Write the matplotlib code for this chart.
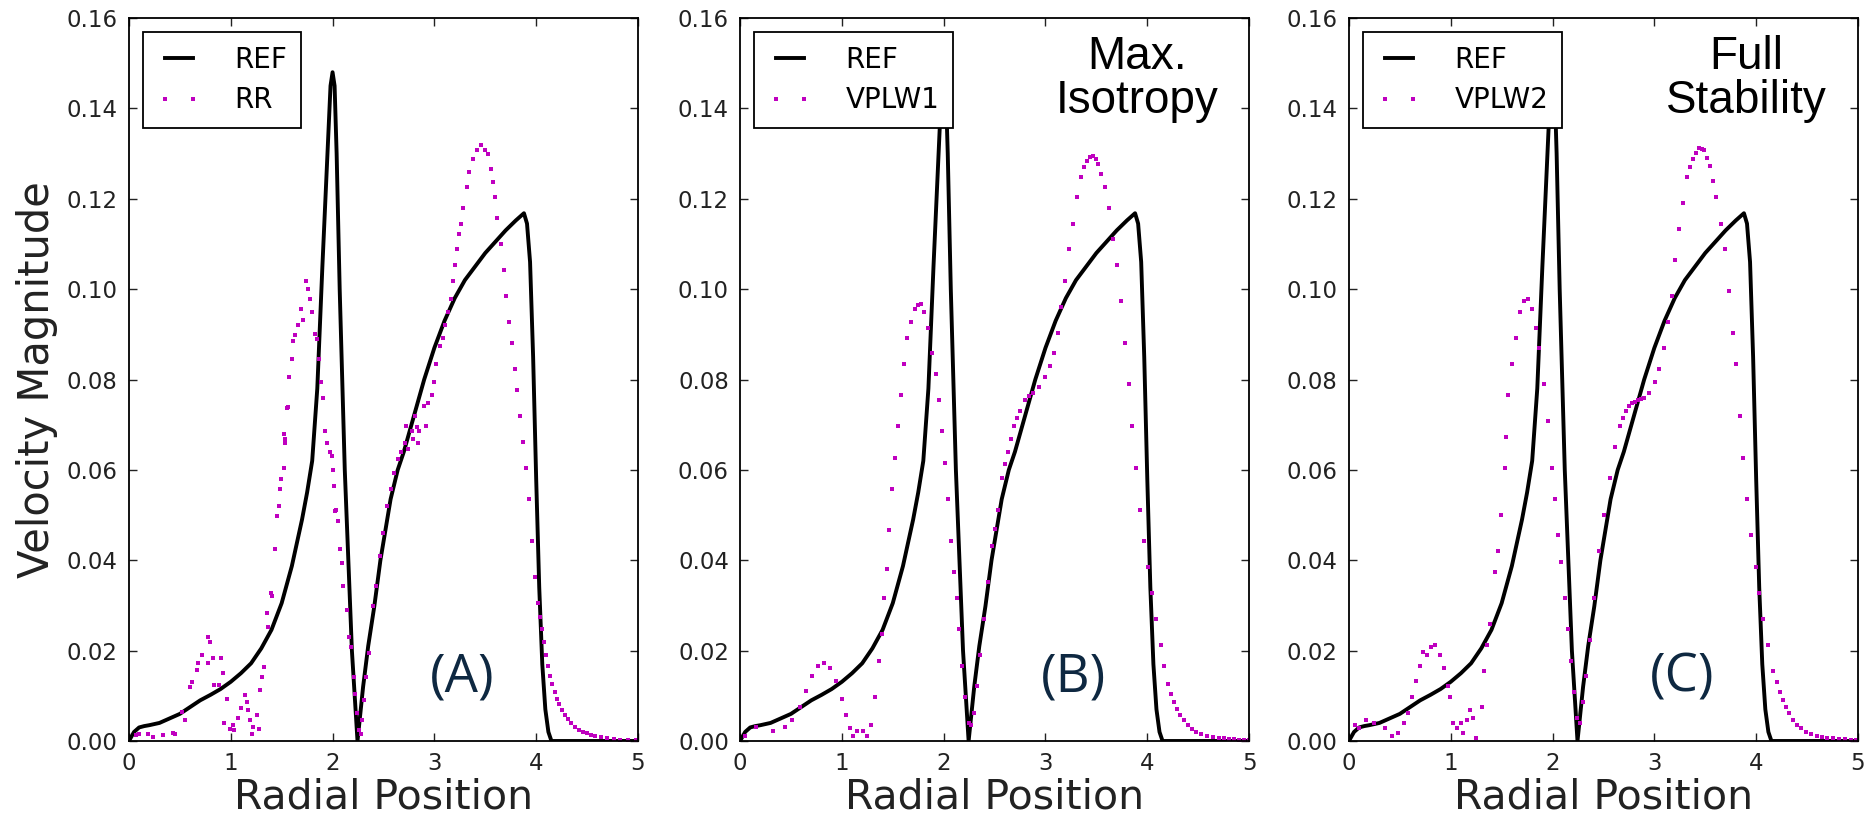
import numpy as np
import matplotlib
matplotlib.use("Agg")
import matplotlib.pyplot as plt
from matplotlib.ticker import FormatStrFormatter

# reference solution (same in every panel)
ref_x = [0, 0.05, 0.1, 0.15, 0.2, 0.3, 0.4, 0.5, 0.6, 0.7, 0.8, 0.9, 1.0, 1.1, 1.2,
         1.3, 1.4, 1.5, 1.6, 1.7, 1.75, 1.8, 1.85, 1.9, 1.95, 1.98, 2.0, 2.02, 2.04,
         2.07, 2.12, 2.19, 2.245, 2.3, 2.35, 2.41, 2.47, 2.57, 2.64, 2.7, 2.8, 2.9,
         3.0, 3.1, 3.2, 3.3, 3.4, 3.5, 3.6, 3.7, 3.8, 3.85, 3.88, 3.91, 3.94, 3.97,
         4.0, 4.03, 4.06, 4.09, 4.12, 4.15, 4.5, 5.0]
ref_y = [0, 0.002, 0.003, 0.0033, 0.0035, 0.004, 0.005, 0.006, 0.0075, 0.009, 0.0102,
         0.0115, 0.0131, 0.015, 0.0172, 0.0205, 0.0246, 0.0305, 0.0387, 0.049, 0.055,
         0.062, 0.078, 0.105, 0.13, 0.145, 0.148, 0.145, 0.13, 0.10, 0.06, 0.02, 0.0,
         0.012, 0.021, 0.0298, 0.04, 0.0535, 0.06, 0.064, 0.072, 0.08, 0.087, 0.093,
         0.098, 0.102, 0.105, 0.108, 0.1105, 0.113, 0.1152, 0.1162, 0.1168, 0.1145,
         0.106, 0.085, 0.058, 0.034, 0.017, 0.007, 0.002, 0, 0, 0]

# RR scheme
rr_x = [0.07, 0.10, 0.19, 0.24, 0.33, 0.43, 0.45, 0.52, 0.55, 0.60, 0.62, 0.67, 0.68,
        0.72, 0.78, 0.80, 0.78, 0.83, 0.84, 0.90, 0.88, 0.92, 0.93, 0.96, 0.99, 1.02,
        1.03, 1.07, 1.10, 1.14, 1.16, 1.17, 1.19, 1.21, 1.22, 1.26, 1.28, 1.29, 1.31,
        1.33, 1.36, 1.37, 1.40, 1.41, 1.43, 1.45, 1.47, 1.48, 1.49, 1.52, 1.53, 1.56,
        1.55, 1.52, 1.53, 1.57, 1.60, 1.61, 1.63, 1.66, 1.69, 1.71, 1.74, 1.76, 1.78,
        1.80, 1.83, 1.85, 1.87, 1.89, 1.91, 1.93, 1.95, 1.97, 1.99, 2.01, 2.03, 2.0,
        2.02, 2.05, 2.07, 2.09, 2.10, 2.14, 2.16, 2.18, 2.21, 2.22, 2.24, 2.26, 2.28,
        2.29, 2.31, 2.33, 2.36, 2.40, 2.43, 2.47, 2.50, 2.53, 2.57, 2.60, 2.64, 2.67,
        2.71, 2.72, 2.74, 2.78, 2.79, 2.83, 2.84, 2.81, 2.85, 2.90, 2.92, 2.94, 2.98,
        3.00, 3.02, 3.06, 3.08, 3.10, 3.13, 3.16, 3.18, 3.20, 3.22, 3.24, 3.26, 3.28,
        3.32, 3.34, 3.38, 3.42, 3.46, 3.50, 3.53, 3.56, 3.58, 3.60, 3.62, 3.65, 3.68,
        3.70, 3.73, 3.76, 3.79, 3.81, 3.84, 3.87, 3.90, 3.93, 3.96, 3.99, 4.02, 4.04,
        4.06, 4.08, 4.10, 4.12, 4.14, 4.16, 4.18, 4.20, 4.22, 4.25, 4.28, 4.31, 4.34,
        4.38, 4.42, 4.46, 4.50, 4.54, 4.58, 4.64, 4.70, 4.76, 4.82, 4.90, 4.98]
rr_y = [0.0013, 0.0016, 0.0016, 0.0009, 0.0013, 0.0018, 0.0015, 0.0064, 0.0046, 0.012,
        0.0131, 0.0157, 0.0172, 0.019, 0.0231, 0.022, 0.0172, 0.0183, 0.0124, 0.0183,
        0.0124, 0.015, 0.0039, 0.0094, 0.0027, 0.0035, 0.0024, 0.005, 0.0072, 0.0101,
        0.0087, 0.0068, 0.0046, 0.0016, 0.0031, 0.0057, 0.0027, 0.0113, 0.0142, 0.0164,
        0.0283, 0.0253, 0.0327, 0.032, 0.0424, 0.0498, 0.052, 0.0557, 0.058, 0.0605,
        0.0668, 0.0739, 0.0737, 0.068, 0.066, 0.0806, 0.0846, 0.0886, 0.0898, 0.092,
        0.0955, 0.0932, 0.1019, 0.100, 0.0978, 0.095, 0.090, 0.089, 0.0846, 0.0794,
        0.076, 0.0685, 0.066, 0.064, 0.063, 0.0564, 0.0512, 0.060, 0.051, 0.0487,
        0.0424, 0.0394, 0.0342, 0.029, 0.0231, 0.0209, 0.0142, 0.0105, 0.0061, 0.0024,
        0.0016, 0.0046, 0.009, 0.0142, 0.0194, 0.0298, 0.0342, 0.0409, 0.046, 0.052,
        0.0557, 0.0594, 0.0624, 0.0639, 0.066, 0.0698, 0.0646, 0.0687, 0.0668, 0.0694,
        0.066, 0.072, 0.0685, 0.0742, 0.0696, 0.0748, 0.0766, 0.0794, 0.0835, 0.0875,
        0.0892, 0.092, 0.095, 0.0978, 0.1019, 0.1053, 0.1088, 0.1122, 0.1145, 0.118,
        0.1226, 0.126, 0.1289, 0.1307, 0.1318, 0.1307, 0.130, 0.1266, 0.1237, 0.1203,
        0.1157, 0.110, 0.1042, 0.0984, 0.0927, 0.0881, 0.0823, 0.0777, 0.072, 0.0662,
        0.0604, 0.0535, 0.0443, 0.0363, 0.0305, 0.0275, 0.0247, 0.0218, 0.019, 0.0166,
        0.0144, 0.0126, 0.0109, 0.0094, 0.0081, 0.0068, 0.0058, 0.0048, 0.004, 0.0032,
        0.0025, 0.0021, 0.0017, 0.0013, 0.001, 0.0008, 0.0006, 0.0004, 0.0003, 0.0002,
        0.0002]

# VPLW1 scheme
v1_x = [0.05, 0.16, 0.32, 0.44, 0.51, 0.59, 0.65, 0.71, 0.77, 0.82, 0.88, 0.94, 1.00,
        1.04, 1.08, 1.11, 1.15, 1.21, 1.25, 1.29, 1.33, 1.36, 1.39, 1.41, 1.44, 1.46,
        1.49, 1.52, 1.55, 1.58, 1.61, 1.64, 1.68, 1.72, 1.75, 1.78, 1.81, 1.85, 1.89,
        1.92, 1.95, 1.98, 2.01, 2.04, 2.07, 2.10, 2.13, 2.15, 2.18, 2.21, 2.25, 2.27,
        2.30, 2.33, 2.36, 2.40, 2.44, 2.47, 2.50, 2.53, 2.57, 2.60, 2.63, 2.66, 2.69,
        2.72, 2.75, 2.80, 2.84, 2.88, 2.94, 3.00, 3.04, 3.08, 3.12, 3.15, 3.19, 3.23,
        3.27, 3.31, 3.35, 3.38, 3.41, 3.44, 3.47, 3.50, 3.52, 3.55, 3.58, 3.62, 3.66,
        3.70, 3.74, 3.78, 3.82, 3.85, 3.89, 3.93, 3.97, 4.01, 4.05, 4.09, 4.13, 4.16,
        4.20, 4.23, 4.26, 4.29, 4.32, 4.36, 4.40, 4.44, 4.48, 4.53, 4.59, 4.65, 4.70,
        4.75, 4.80, 4.85, 4.90, 4.95, 5.0]
v1_y = [0.001, 0.003, 0.0023, 0.003, 0.0046, 0.0075, 0.011, 0.0144, 0.0167, 0.0173,
        0.0161, 0.0132, 0.0092, 0.0058, 0.0029, 0.0012, 0.0023, 0.0023, 0.0012, 0.0035,
        0.0098, 0.0178, 0.0236, 0.0317, 0.038, 0.0466, 0.0558, 0.0627, 0.0696, 0.0766,
        0.0835, 0.0892, 0.0927, 0.0955, 0.0965, 0.0967, 0.095, 0.0915, 0.0858, 0.0812,
        0.0754, 0.0685, 0.0616, 0.0535, 0.0443, 0.0374, 0.0317, 0.0247, 0.0167, 0.0098,
        0.004, 0.0035, 0.0063, 0.0121, 0.019, 0.027, 0.0351, 0.0432, 0.047, 0.0512,
        0.0581, 0.0612, 0.0639, 0.0668, 0.0696, 0.0715, 0.0731, 0.0754, 0.0763, 0.0771,
        0.0783, 0.0806, 0.0829, 0.0858, 0.0904, 0.0961, 0.1019, 0.1088, 0.1145, 0.1203,
        0.1249, 0.127, 0.1284, 0.1292, 0.1295, 0.1289, 0.1278, 0.1255, 0.1226, 0.118,
        0.1111, 0.1053, 0.0973, 0.0881, 0.0789, 0.0696, 0.0604, 0.0512, 0.0443, 0.0386,
        0.0328, 0.0271, 0.0213, 0.0167, 0.0127, 0.0105, 0.0086, 0.0071, 0.0058, 0.0046,
        0.0035, 0.0027, 0.002, 0.0015, 0.001, 0.0008, 0.0007, 0.0006, 0.0005, 0.0004,
        0.0003, 0.0003, 0.0002]

# VPLW2 scheme
v2_x = [0.06, 0.10, 0.17, 0.25, 0.35, 0.42, 0.48, 0.54, 0.58, 0.62, 0.66, 0.70, 0.73,
        0.77, 0.81, 0.85, 0.89, 0.93, 0.97, 0.99, 1.02, 1.06, 1.10, 1.12, 1.16, 1.19,
        1.22, 1.25, 1.31, 1.33, 1.36, 1.39, 1.43, 1.46, 1.49, 1.53, 1.54, 1.56, 1.60,
        1.64, 1.68, 1.72, 1.76, 1.80, 1.84, 1.87, 1.92, 1.96, 1.99, 2.02, 2.05, 2.08,
        2.12, 2.15, 2.18, 2.21, 2.24, 2.27, 2.30, 2.33, 2.37, 2.41, 2.46, 2.51, 2.56,
        2.61, 2.66, 2.69, 2.72, 2.75, 2.78, 2.81, 2.84, 2.87, 2.90, 2.95, 3.01, 3.05,
        3.09, 3.13, 3.17, 3.20, 3.24, 3.28, 3.32, 3.35, 3.38, 3.41, 3.44, 3.47, 3.49,
        3.52, 3.55, 3.58, 3.61, 3.65, 3.69, 3.73, 3.77, 3.80, 3.84, 3.87, 3.91, 3.95,
        4.00, 4.03, 4.07, 4.12, 4.17, 4.20, 4.23, 4.26, 4.29, 4.32, 4.36, 4.40, 4.44,
        4.49, 4.54, 4.60, 4.65, 4.70, 4.75, 4.81, 4.87, 4.93, 4.98]
v2_y = [0.0035, 0.0029, 0.0046, 0.004, 0.0029, 0.0012, 0.0017, 0.004, 0.0063, 0.0098,
        0.0132, 0.0167, 0.0196, 0.019, 0.0207, 0.0213, 0.019, 0.0161, 0.0121, 0.0098,
        0.004, 0.0029, 0.004, 0.0017, 0.0046, 0.0069, 0.0052, 0.0006, 0.0075, 0.0155,
        0.0213, 0.0259, 0.0374, 0.042, 0.0501, 0.0604, 0.0673, 0.0766, 0.0835, 0.0892,
        0.095, 0.0973, 0.0978, 0.0955, 0.0915, 0.0869, 0.0789, 0.0708, 0.0604, 0.0535,
        0.0455, 0.0397, 0.0317, 0.0247, 0.0178, 0.0109, 0.0052, 0.004, 0.0086, 0.0144,
        0.0224, 0.0317, 0.042, 0.0501, 0.0581, 0.065, 0.0696, 0.0715, 0.0731, 0.0742,
        0.0748, 0.0751, 0.0754, 0.0757, 0.076, 0.0771, 0.0794, 0.0823, 0.0869, 0.0927,
        0.0984, 0.1065, 0.1134, 0.1191, 0.1249, 0.127, 0.1289, 0.1302, 0.1312, 0.131,
        0.1307, 0.129, 0.1272, 0.124, 0.1203, 0.1145, 0.1088, 0.0996, 0.0904, 0.0835,
        0.072, 0.0627, 0.0535, 0.0455, 0.0386, 0.0328, 0.0271, 0.0213, 0.0155, 0.013,
        0.0109, 0.009, 0.0075, 0.0062, 0.0046, 0.0036, 0.0029, 0.0021, 0.0015, 0.0011,
        0.0008, 0.0007, 0.0006, 0.0005, 0.0004, 0.0003, 0.0003]

labels = ["RR", "VPLW1", "VPLW2"]
tags = ["(A)", "(B)", "(C)"]
notes = [None, "Max.\nIsotropy", "Full\nStability"]
series = [(rr_x, rr_y), (v1_x, v1_y), (v2_x, v2_y)]

plt.rcParams['font.family'] = 'DejaVu Sans'
fig = plt.figure(figsize=(18.66, 8.15), dpi=100)
lefts = [0.0691, 0.3966, 0.7229]

for i in range(3):
    ax = fig.add_axes([lefts[i], 0.0908, 0.2728, 0.8871])
    ax.plot(ref_x, ref_y, 'k-', lw=2.8, label='REF')
    ax.plot(series[i][0], series[i][1], 's', color='m', ms=3.3, mew=0,
            label=labels[i])
    ax.set_xlim(0, 5)
    ax.set_ylim(0, 0.16)
    ax.set_xticks(range(6))
    ax.set_yticks(np.arange(0, 0.161, 0.02))
    ax.yaxis.set_major_formatter(FormatStrFormatter('%.2f'))
    ax.tick_params(direction='in', top=True, right=True, length=6, width=1,
                   labelsize=16.5, pad=8, colors='#222222', labelcolor='#222222')
    for s in ax.spines.values():
        s.set_linewidth(1.3)
    ax.set_xlabel('Radial Position', fontsize=29.5, labelpad=2, color='#222222')
    if i == 0:
        ax.set_ylabel('Velocity Magnitude', fontsize=30, labelpad=6, color='#222222')
    leg = ax.legend(loc='upper left', numpoints=2, fontsize=20, fancybox=False,
                    framealpha=1, edgecolor='black', borderpad=0.5,
                    handlelength=1.6, handletextpad=1.2, labelspacing=0.45,
                    borderaxespad=0.5)
    leg.get_frame().set_linewidth(1.3)
    ax.text(0.655, 0.087, tags[i], transform=ax.transAxes, ha='center',
            va='center', fontsize=38, family='Open Sans', color='#0e2841')
    if notes[i]:
        ax.text(0.78, 0.976, notes[i], transform=ax.transAxes, ha='center',
                va='top', fontsize=33, family='Liberation Sans', linespacing=1.0)

fig.savefig('out.png', dpi=100)
